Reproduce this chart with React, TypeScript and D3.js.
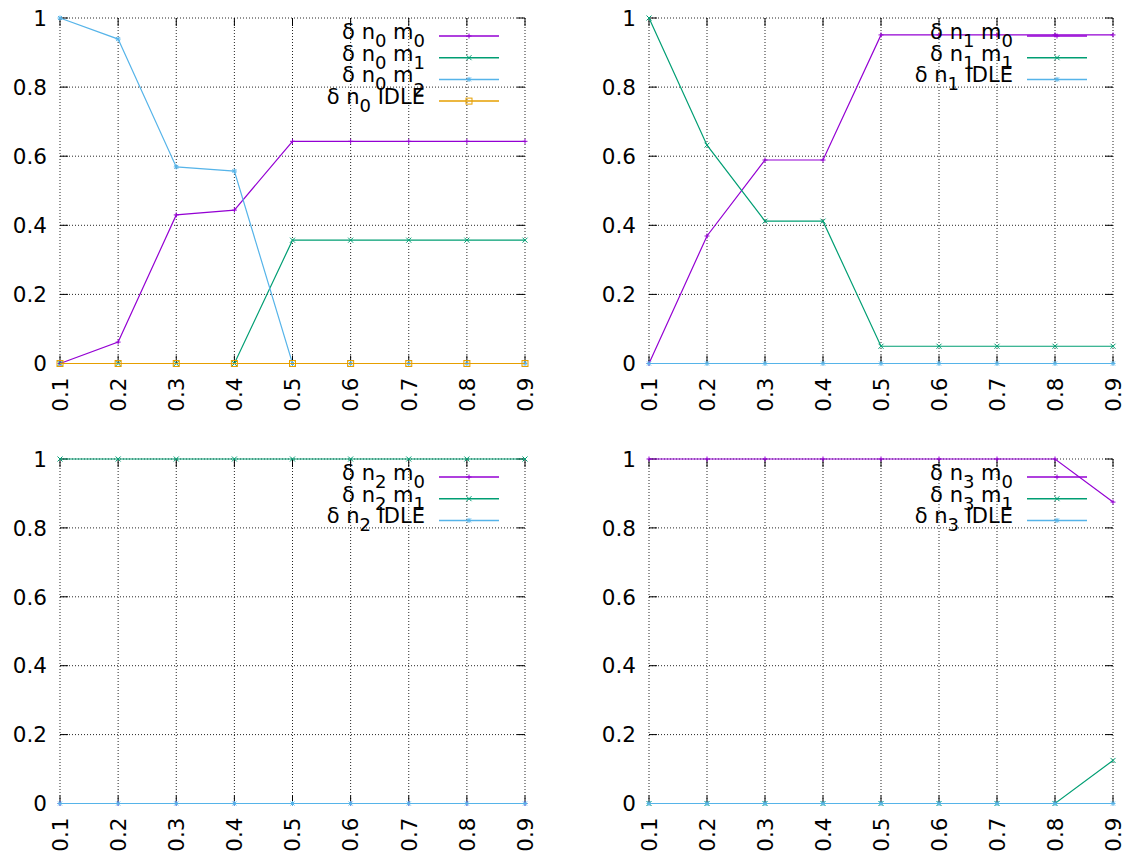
import React from "react";
import * as d3 from "d3";

const xValues = [0.1, 0.2, 0.3, 0.4, 0.5, 0.6, 0.7, 0.8, 0.9];
const xTickLabels = ["0.1", "0.2", "0.3", "0.4", "0.5", "0.6", "0.7", "0.8", "0.9"];
const yTicks = [0, 0.2, 0.4, 0.6, 0.8, 1];
const yTickLabels = ["0", "0.2", "0.4", "0.6", "0.8", "1"];

// panel n0
const n0m0 = [0, 0.062, 0.43, 0.444, 0.643, 0.643, 0.643, 0.643, 0.643];
const n0m1 = [0, 0, 0, 0, 0.357, 0.357, 0.357, 0.357, 0.357];
const n0m2 = [1, 0.939, 0.569, 0.557, 0, 0, 0, 0, 0];
const n0idle = [0, 0, 0, 0, 0, 0, 0, 0, 0];
// panel n1
const n1m0 = [0, 0.369, 0.589, 0.589, 0.951, 0.951, 0.951, 0.951, 0.951];
const n1m1 = [1, 0.632, 0.412, 0.412, 0.05, 0.05, 0.05, 0.05, 0.05];
const n1idle = [0, 0, 0, 0, 0, 0, 0, 0, 0];
// panel n2
const n2m0 = [0, 0, 0, 0, 0, 0, 0, 0, 0];
const n2m1 = [1, 1, 1, 1, 1, 1, 1, 1, 1];
const n2idle = [0, 0, 0, 0, 0, 0, 0, 0, 0];
// panel n3
const n3m0 = [1, 1, 1, 1, 1, 1, 1, 1, 0.875];
const n3m1 = [0, 0, 0, 0, 0, 0, 0, 0, 0.125];
const n3idle = [0, 0, 0, 0, 0, 0, 0, 0, 0];

const PURPLE = "#9400d3";
const GREEN = "#009e73";
const BLUE = "#56b4e9";
const ORANGE = "#e69f00";
const FONT = "'DejaVu Sans', Verdana, sans-serif";

type Series = {
  values: number[];
  color: string;
  pt: number;
  node: string;
  target: string;
  subTarget?: string;
  subShift?: number;
};

type Panel = { left: number; right: number; top: number; bottom: number; series: Series[] };

const panels: Panel[] = [
  {
    left: 60, right: 525, top: 18, bottom: 363.5,
    series: [
      { values: n0m0, color: PURPLE, pt: 1, node: "0", target: " m", subTarget: "0" },
      { values: n0m1, color: GREEN, pt: 2, node: "0", target: " m", subTarget: "1" },
      { values: n0m2, color: BLUE, pt: 3, node: "0", target: " m", subTarget: "2", subShift: 14 },
      { values: n0idle, color: ORANGE, pt: 4, node: "0", target: " IDLE" },
    ],
  },
  {
    left: 649, right: 1113, top: 18, bottom: 363.5,
    series: [
      { values: n1m0, color: PURPLE, pt: 1, node: "1", target: " m", subTarget: "0" },
      { values: n1m1, color: GREEN, pt: 2, node: "1", target: " m", subTarget: "1" },
      { values: n1idle, color: BLUE, pt: 3, node: "1", target: " IDLE" },
    ],
  },
  {
    left: 60, right: 525, top: 459, bottom: 803.5,
    series: [
      { values: n2m0, color: PURPLE, pt: 1, node: "2", target: " m", subTarget: "0" },
      { values: n2m1, color: GREEN, pt: 2, node: "2", target: " m", subTarget: "1" },
      { values: n2idle, color: BLUE, pt: 3, node: "2", target: " IDLE" },
    ],
  },
  {
    left: 649, right: 1113, top: 459, bottom: 803.5,
    series: [
      { values: n3m0, color: PURPLE, pt: 1, node: "3", target: " m", subTarget: "0" },
      { values: n3m1, color: GREEN, pt: 2, node: "3", target: " m", subTarget: "1" },
      { values: n3idle, color: BLUE, pt: 3, node: "3", target: " IDLE" },
    ],
  },
];

function Marker({ x, y, pt, color }: { x: number; y: number; pt: number; color: string }) {
  const s = 2.5;
  if (pt === 1) {
    return (
      <g stroke={color} strokeWidth={1}>
        <line x1={x - s} x2={x + s} y1={y} y2={y} />
        <line x1={x} x2={x} y1={y - s} y2={y + s} />
      </g>
    );
  }
  if (pt === 2) {
    return (
      <g stroke={color} strokeWidth={1}>
        <line x1={x - s} x2={x + s} y1={y - s} y2={y + s} />
        <line x1={x - s} x2={x + s} y1={y + s} y2={y - s} />
      </g>
    );
  }
  if (pt === 3) {
    return (
      <g stroke={color} strokeWidth={1}>
        <line x1={x - s} x2={x + s} y1={y} y2={y} />
        <line x1={x} x2={x} y1={y - s} y2={y + s} />
        <line x1={x - 2} x2={x + 2} y1={y - 2} y2={y + 2} />
        <line x1={x - 2} x2={x + 2} y1={y + 2} y2={y - 2} />
      </g>
    );
  }
  return <rect x={x - 3} y={y - 3} width={6} height={6} fill="none" stroke={color} strokeWidth={1} />;
}

function PanelView({ p }: { p: Panel }) {
  const x = d3.scaleLinear().domain([0.1, 0.9]).range([p.left, p.right]);
  const y = d3.scaleLinear().domain([0, 1]).range([p.bottom, p.top]);
  const line = d3
    .line<number>()
    .x((_, i) => x(xValues[i]))
    .y((d) => y(d));
  const tick = 8;
  const legendTextEnd = p.right - 100;
  return (
    <g>
      {/* grid */}
      <g stroke="#000" strokeWidth={1} strokeDasharray="1,2" opacity={0.85}>
        {yTicks.map((t) => (
          <line key={"gy" + t} x1={p.left} x2={p.right} y1={y(t)} y2={y(t)} />
        ))}
        {xValues.map((t) => (
          <line key={"gx" + t} x1={x(t)} x2={x(t)} y1={p.top} y2={p.bottom} />
        ))}
      </g>
      {/* ticks */}
      <g stroke="#000" strokeWidth={1}>
        {yTicks.map((t) => (
          <g key={"ty" + t}>
            <line x1={p.left} x2={p.left + tick} y1={y(t)} y2={y(t)} />
            <line x1={p.right} x2={p.right - tick} y1={y(t)} y2={y(t)} />
          </g>
        ))}
        {xValues.map((t) => (
          <g key={"tx" + t}>
            <line x1={x(t)} x2={x(t)} y1={p.bottom} y2={p.bottom - tick} />
            <line x1={x(t)} x2={x(t)} y1={p.top} y2={p.top + tick} />
          </g>
        ))}
      </g>
      {/* y labels */}
      {yTicks.map((t, i) => (
        <text key={"yl" + t} x={p.left - 13} y={y(t)} dy="0.36em" textAnchor="end" fontSize={21.5} fontFamily={FONT} fill="#000">
          {yTickLabels[i]}
        </text>
      ))}
      {/* x labels */}
      {xValues.map((t, i) => (
        <text
          key={"xl" + t}
          transform={`translate(${x(t)},${p.bottom + 14}) rotate(-90)`}
          dy="0.36em"
          textAnchor="end"
          fontSize={21.5}
          fontFamily={FONT}
          fill="#000"
        >
          {xTickLabels[i]}
        </text>
      ))}
      {/* series */}
      {p.series.map((s, si) => (
        <g key={"s" + si}>
          <path d={line(s.values) || ""} fill="none" stroke={s.color} strokeWidth={1.2} />
          {s.values.map((v, i) => (
            <Marker key={i} x={x(xValues[i])} y={y(v)} pt={s.pt} color={s.color} />
          ))}
        </g>
      ))}
      {/* legend */}
      {p.series.map((s, si) => {
        const ry = p.top + 18 + si * 21.7;
        return (
          <g key={"lg" + si}>
            <text x={legendTextEnd} y={ry + 3} textAnchor="end" fontSize={21} fontFamily={FONT} fill="#000">
              <tspan>δ n</tspan>
              <tspan fontSize={18} dy={8}>{s.node}</tspan>
              <tspan dy={-8}>{s.target}</tspan>
              {s.subTarget ? (
                <tspan fontSize={18} dy={s.subShift ?? 8}>{s.subTarget}</tspan>
              ) : null}
            </text>
            <line x1={legendTextEnd + 14} x2={legendTextEnd + 74} y1={ry} y2={ry} stroke={s.color} strokeWidth={1.5} />
            <Marker x={legendTextEnd + 44} y={ry} pt={s.pt} color={s.color} />
          </g>
        );
      })}
    </g>
  );
}

export default function App() {
  return (
    <svg width={1128} height={854} style={{ position: "absolute", left: 0, top: 0, background: "#fff" }}>
      <rect width={1128} height={854} fill="#fff" />
      {panels.map((p, i) => (
        <PanelView key={i} p={p} />
      ))}
    </svg>
  );
}
